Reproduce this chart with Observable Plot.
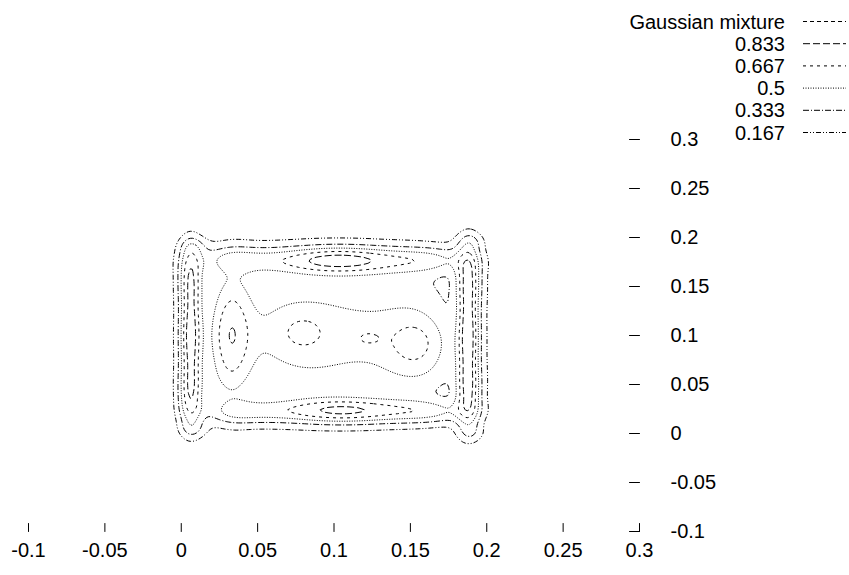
<!DOCTYPE html>
<html><head><meta charset="utf-8">
<script src="https://cdn.jsdelivr.net/npm/d3@7"></script>
<script src="https://cdn.jsdelivr.net/npm/@observablehq/plot@0.6"></script>
<style>body{margin:0;background:#fff;font-family:"Liberation Sans",Arial,sans-serif}</style>
</head><body><div id="chart"></div>
<script>
// ---- data ----
const xTicks = [-0.1, -0.05, 0, 0.05, 0.1, 0.15, 0.2, 0.25, 0.3];
const yTicks = [-0.1, -0.05, 0, 0.05, 0.1, 0.15, 0.2, 0.25, 0.3];
const levels = [0.833, 0.667, 0.5, 0.333, 0.167];
const legendLabels = ["Gaussian mixture", "0.833", "0.667", "0.5", "0.333", "0.167"];
// Gaussian mixture components (centre, spread, weight)
const compX  = [0.050, 0.100, 0.150,  0.103, 0.035, 0.165,  0.105, 0.040, 0.165,  0.006, 0.006, 0.006,  0.188, 0.188, 0.188,  0.008, 0.190, 0.008, 0.190,  0.032, 0.078, 0.122, 0.155,  0.035, 0.166, 0.025, 0.085, 0.166];
const compY  = [0.100, 0.100, 0.100,  0.177, 0.178, 0.178,  0.023, 0.022, 0.022,  0.100, 0.035, 0.165,  0.100, 0.035, 0.165,  0.192, 0.197, 0.004, 0.000,  0.100, 0.104, 0.097, 0.091,  0.155, 0.152, 0.050, 0.050, 0.050];
const compSX = [0.035, 0.035, 0.035,  0.032, 0.020, 0.020,  0.032, 0.020, 0.020,  0.005, 0.006, 0.006,  0.005, 0.006, 0.006,  0.007, 0.007, 0.007, 0.007,  0.0097, 0.0145, 0.008, 0.0142,  0.020, 0.024, 0.015, 0.020, 0.024];
const compSY = [0.055, 0.055, 0.055,  0.010, 0.010, 0.010,  0.009, 0.009, 0.009,  0.045, 0.022, 0.022,  0.045, 0.022, 0.022,  0.007, 0.007, 0.007, 0.007,  0.045, 0.0195, 0.008, 0.0225,  0.015, 0.018, 0.015, 0.015, 0.018];
const compW  = [0.30, 0.30, 0.30,  0.68, 0.29, 0.29,  0.62, 0.29, 0.29,  0.72, 0.40, 0.40,  0.72, 0.40, 0.40,  0.15, 0.15, 0.15, 0.15,  0.47, 0.16, 0.12, 0.30,  0.05, 0.08, 0.05, 0.03, 0.08];

// ---- styles ----
const legendDash = ["4,3", "7,3", "3,4", "1,1.5", "6,2,1,2", "5,2,1,2,1,2"];
const levelDash = legendDash.slice(1);

function density(x, y) {
  let s = 0;
  for (let i = 0; i < compX.length; i++) {
    const dx = (x - compX[i]) / compSX[i], dy = (y - compY[i]) / compSY[i];
    s += compW[i] * Math.exp(-0.5 * (dx * dx + dy * dy));
  }
  return s;
}
let fmax = 0;
for (let i = 0; i <= 260; i++) for (let j = 0; j <= 260; j++) {
  fmax = Math.max(fmax, density(-0.03 + i * 0.001, -0.03 + j * 0.001));
}
const value = (x, y) => density(x, y) / fmax;

const line = {draw(context, l) { context.moveTo(0, 0); context.lineTo(0, -l); }};
const fmt = d => String(d);

const plot = Plot.plot({
  width: 849, height: 575,
  marginLeft: 28, marginRight: 210, marginTop: 139, marginBottom: 44,
  x: {domain: [-0.1, 0.3], axis: null}, y: {domain: [-0.1, 0.3], axis: null},
  style: {fontFamily: "Liberation Sans, Arial, sans-serif", fontSize: "20px", color: "black", background: "white"},
  marks: [
    ...levels.map((t, i) => Plot.contour({
      x1: -0.03, x2: 0.23, y1: -0.03, y2: 0.23,
      value, thresholds: [t], fill: "none", stroke: "black", strokeWidth: 1,
      strokeDasharray: levelDash[i]
    })),
    Plot.vector(xTicks, {x: d => d, frameAnchor: "bottom", length: 8, rotate: 0, anchor: "start", shape: line, stroke: "black", strokeWidth: 1}),
    Plot.vector(yTicks, {y: d => d, frameAnchor: "right", length: 10, rotate: -90, anchor: "start", shape: line, stroke: "black", strokeWidth: 1}),
    Plot.text(xTicks, {x: d => d, frameAnchor: "bottom", dy: 25, text: fmt, fontSize: 20, fill: "black"}),
    Plot.text(yTicks, {y: d => d, frameAnchor: "right", dx: 31, text: fmt, fontSize: 20, textAnchor: "start", fill: "black"})
  ]
});
document.getElementById("chart").appendChild(plot);

// legend (key) in the top-right corner
const svg = d3.select(plot);
const key = svg.append("g").attr("font-family", "Liberation Sans, Arial, sans-serif").attr("font-size", 20);
legendLabels.forEach((lab, i) => {
  const yy = 21.5 + i * 22.2;
  key.append("text").attr("x", 785).attr("y", yy).attr("dy", "0.35em").attr("text-anchor", "end").attr("fill", "black").text(lab);
  key.append("line").attr("x1", 803).attr("x2", 846).attr("y1", yy).attr("y2", yy)
    .attr("stroke", "black").attr("stroke-width", 1).attr("stroke-dasharray", legendDash[i]);
});
</script></body></html>
